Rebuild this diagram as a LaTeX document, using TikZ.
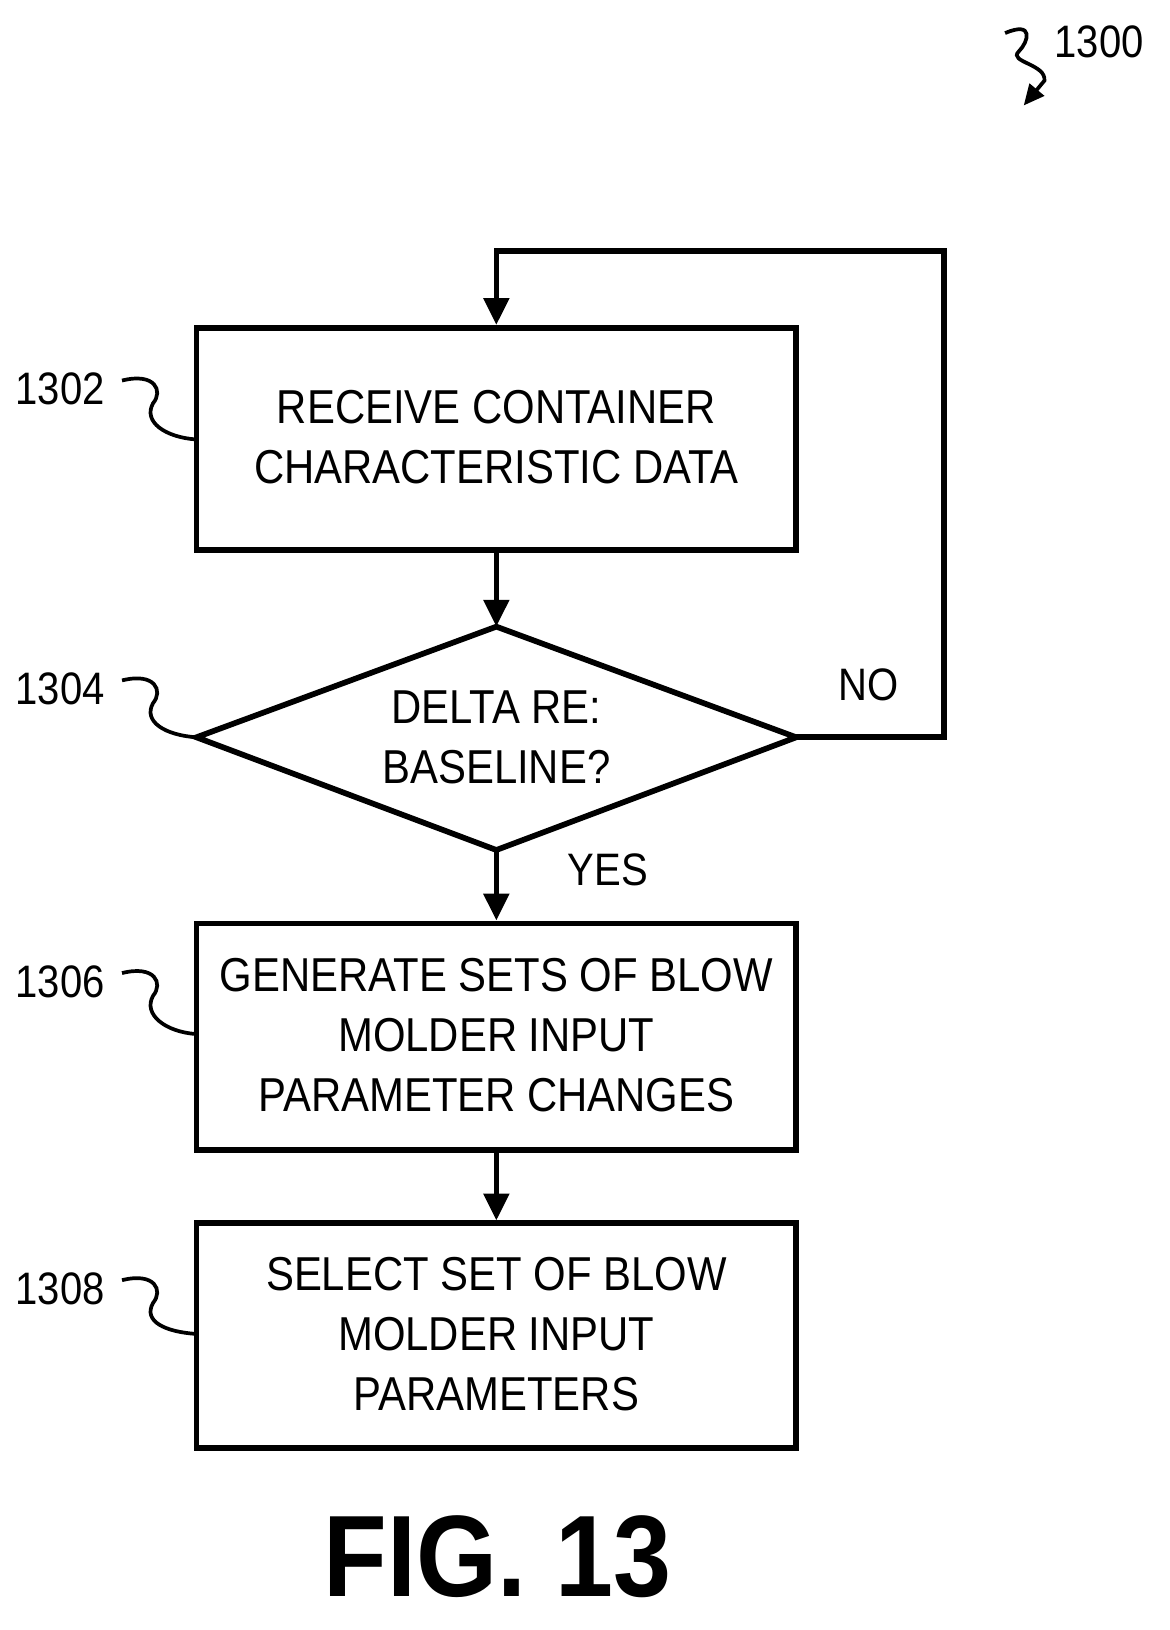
\documentclass[tikz,border=0pt]{standalone}
\usepackage{fontspec}
\setmainfont{Liberation Sans}
\usetikzlibrary{arrows.meta,shapes.geometric}
\begin{document}
\begin{tikzpicture}[x=1pt,y=-1pt,line width=5.5pt,
  txt/.style={font=\fontsize{46}{58}\selectfont,align=center,inner sep=0pt},
  lbl/.style={font=\fontsize{44}{50}\selectfont,inner sep=0pt},
  arr/.style={-{Triangle[length=26pt,width=24pt]}},
  sq/.style={line width=3.6pt}]
\useasboundingbox (0,0) rectangle (1130.5,1576.3);
\node[draw,minimum width=580pt,minimum height=215pt,inner sep=0pt] (b1) at (480,424.5) {};
\node[txt] (t1) at (480,423) {\scalebox{0.88}[1]{RECEIVE CONTAINER}\\\scalebox{0.88}[1]{CHARACTERISTIC DATA}};
\coordinate (dl) at (190,713); \coordinate (dr) at (770,713);
\coordinate (dt) at (480,606); \coordinate (db) at (480,822);
\draw (dl) -- (dt) -- (dr) -- (db) -- cycle;
\node[txt] (t2) at (480,713) {\scalebox{0.88}[1]{DELTA RE:}\\\scalebox{0.88}[1]{BASELINE?}};
\node[draw,minimum width=580pt,minimum height=219pt,inner sep=0pt] (b3) at (480,1002.5) {};
\node[txt] (t3) at (480,1001) {\scalebox{0.88}[1]{GENERATE SETS OF BLOW}\\\scalebox{0.88}[1]{MOLDER INPUT}\\\scalebox{0.88}[1]{PARAMETER CHANGES}};
\node[draw,minimum width=580pt,minimum height=217pt,inner sep=0pt] (b4) at (480,1291.5) {};
\node[txt] (t4) at (480,1290) {\scalebox{0.88}[1]{SELECT SET OF BLOW}\\\scalebox{0.88}[1]{MOLDER INPUT}\\\scalebox{0.88}[1]{PARAMETERS}};
\coordinate (c1) at (913,713); \coordinate (c2) at (913,243); \coordinate (c3) at (480,243);
\draw[arr] (dr) -- (c1) -- (c2) -- (c3) -- (b1.north);
\draw[arr] (b1.south) -- (dt);
\draw[arr] (db) -- (b3.north);
\draw[arr] (b3.south) -- (b4.north);
\node[lbl] (no) at (840,662) {\scalebox{0.88}[1]{NO}};
\node[lbl] (yes) at (588,841) {\scalebox{0.88}[1]{YES}};
\foreach \n/\y/\ty in {1302/368/425,1304/658/713,1306/941/1000,1308/1238/1290}{
  \node[lbl,anchor=east] (l\n) at (104,\y+8) {\scalebox{0.88}[1]{\n}};
  \coordinate (s\n) at (118,\y); \coordinate (e\n) at (190,\ty);
  \draw[sq] (s\n) .. controls (150,\y-8) and (158,\y+10) .. (148,\y+22) .. controls (138,\y+40) and (160,\ty-2) .. (e\n);
}
\node[lbl] (l1300) at (1063,40) {\scalebox{0.88}[1]{1300}};
\coordinate (a0) at (972,32); \coordinate (a1) at (990,102);
\draw[sq,-{Triangle[length=20pt,width=18pt]}] (a0) .. controls (1000,20) and (995,40) .. (985,50) .. controls (975,60) and (1012,62) .. (1010,78) -- (a1);
\node[font=\bfseries\fontsize{112}{112}\selectfont,inner sep=0pt] (fig) at (481,1505) {\scalebox{0.9}[1]{FIG. 13}};
\end{tikzpicture}
\end{document}
